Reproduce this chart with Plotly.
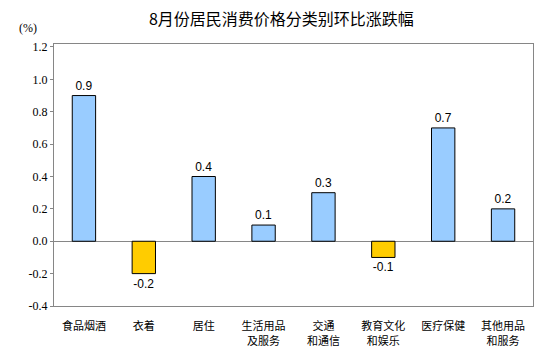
import plotly.graph_objects as go

categories = ["食品烟酒", "衣着", "居住", "生活用品<br>及服务", "交通<br>和通信", "教育文化<br>和娱乐", "医疗保健", "其他用品<br>和服务"]
values = [0.9, -0.2, 0.4, 0.1, 0.3, -0.1, 0.7, 0.2]
labels = ["0.9", "-0.2", "0.4", "0.1", "0.3", "-0.1", "0.7", "0.2"]
y_ticks = [-0.4, -0.2, 0.0, 0.2, 0.4, 0.6, 0.8, 1.0, 1.2]
y_tick_text = ["-0.4", "-0.2", "0.0", "0.2", "0.4", "0.6", "0.8", "1.0", "1.2"]

colors = ["#99CCFF" if v >= 0 else "#FFCC00" for v in values]

fig = go.Figure(go.Bar(
    x=categories, y=values, text=labels, textposition="outside",
    marker=dict(color=colors, line=dict(color="black", width=1)),
    width=0.39, cliponaxis=False,
    textfont=dict(family="Liberation Sans, Arial", size=12, color="black"),
))

fig.update_layout(
    width=556, height=355,
    margin=dict(l=53.5, r=23, t=44, b=49),
    plot_bgcolor="white", paper_bgcolor="white",
    showlegend=False,
    title=dict(text="8月份居民消费价格分类别环比涨跌幅", xref="container", x=0.506, xanchor="center",
               yref="container", y=0.945, yanchor="middle",
               font=dict(family="Noto Sans CJK SC", size=16, color="black")),
    font=dict(family="Liberation Sans, Arial", size=11, color="black"),
    annotations=[dict(text="(%)", xref="paper", yref="paper", x=-0.054, y=1.06, xanchor="center",
                      yanchor="middle", showarrow=False,
                      font=dict(size=12, family="Liberation Serif, Times New Roman"))],
)
fig.update_xaxes(showline=True, linecolor="#868686", mirror=True, ticks="", showgrid=False, automargin=False,
                 tickfont=dict(family="Noto Sans CJK SC", size=11), ticklabelstandoff=10)
fig.update_yaxes(range=[-0.4, 1.2185], tickvals=y_ticks, ticktext=y_tick_text, showline=True, linecolor="#868686",
                 mirror=True, ticks="outside", ticklen=3, tickcolor="#868686", showgrid=False, automargin=False,
                 zeroline=True, zerolinecolor="#868686", zerolinewidth=1,
                 tickfont=dict(family="Liberation Serif, Times New Roman", size=12))

fig.write_html("out.html", config={"displayModeBar": False},
               post_script="document.body.style.margin='0';")
